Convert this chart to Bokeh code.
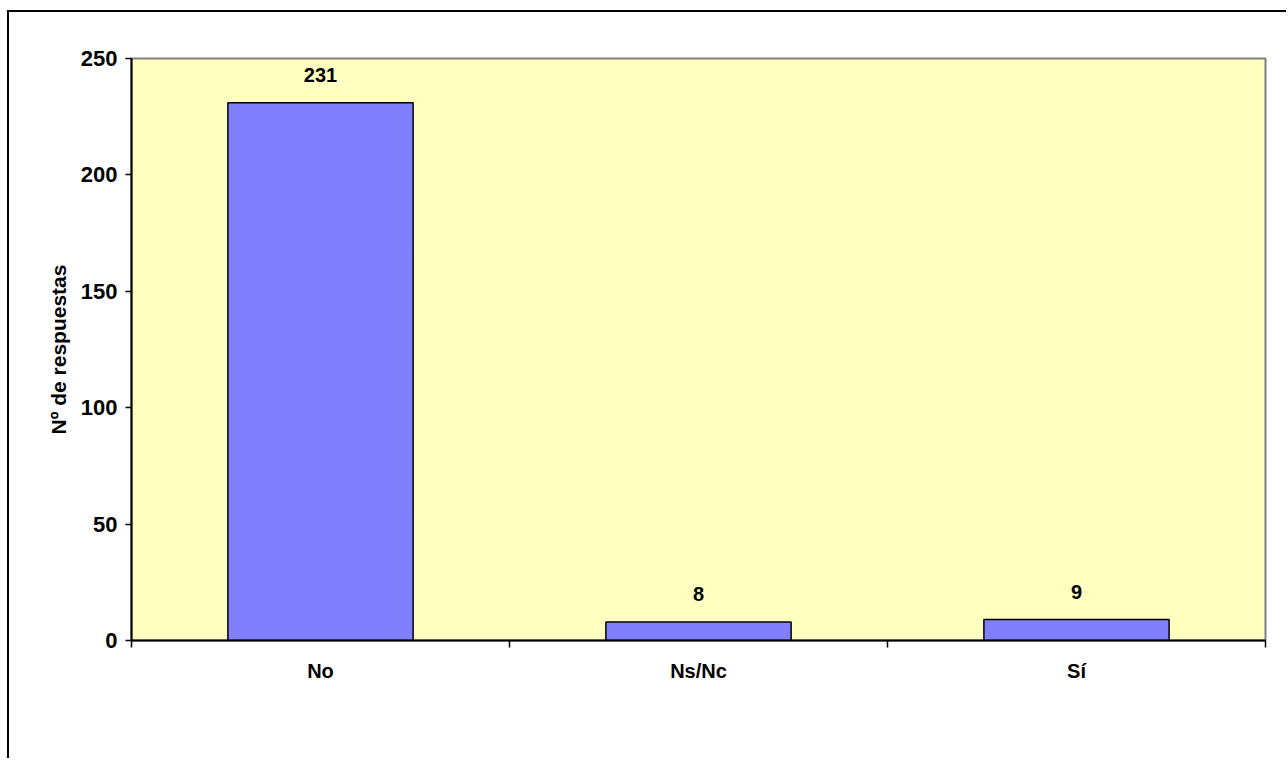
from bokeh.plotting import figure
from bokeh.models import Range1d, FixedTicker, ColumnDataSource, LabelSet
from bokeh.core.properties import value
from bokeh.embed import file_html
from bokeh.resources import INLINE

categories = ["No", "Ns/Nc", "Sí"]
values = [231, 8, 9]
y_ticks = [0, 50, 100, 150, 200, 250]

FONT = "Liberation Sans"

xs = [i + 0.5 for i in range(len(categories))]
src = ColumnDataSource(dict(x=xs, top=values, label=[str(v) for v in values]))

p = figure(width=1279, height=748, output_backend="svg", toolbar_location=None,
           x_range=Range1d(0, len(categories)), y_range=Range1d(0, 250),
           min_border_left=122, min_border_right=23, min_border_top=46, min_border_bottom=120)
p.styles = {"border-top": "2px solid black", "border-left": "2px solid black",
            "margin-top": "10px", "margin-left": "7px"}
p.background_fill_color = "#FFFFC0"
p.border_fill_color = "white"
p.outline_line_color = "#808080"
p.outline_line_width = 2
p.xgrid.visible = False
p.ygrid.visible = False

p.vbar(x="x", top="top", width=0.49, bottom=0, source=src,
       fill_color="#8080FF", line_color="black", line_width=1.5)

labels = LabelSet(x="x", y="top", text="label", source=src, text_align="center",
                  text_baseline="bottom", y_offset=21, text_font=value(FONT),
                  text_font_style="bold", text_font_size="20px", text_color="black")
p.add_layout(labels)

xa = p.xaxis[0]
xa.ticker = FixedTicker(ticks=xs, minor_ticks=list(range(len(categories) + 1)))
xa.major_label_overrides = {x: c for x, c in zip(xs, categories)}
xa.major_tick_out = 0
xa.major_tick_in = 0
xa.minor_tick_out = 7
xa.minor_tick_in = 0
xa.minor_tick_line_color = "black"
xa.minor_tick_line_width = 1.5
xa.axis_line_color = "black"
xa.axis_line_width = 2
xa.major_label_standoff = 12
xa.major_label_text_font = FONT
xa.major_label_text_font_style = "bold"
xa.major_label_text_font_size = "20px"
xa.major_label_text_color = "black"

ya = p.yaxis[0]
ya.ticker = FixedTicker(ticks=y_ticks, minor_ticks=[])
ya.major_tick_out = 6
ya.major_tick_in = 0
ya.major_tick_line_color = "black"
ya.major_tick_line_width = 1.5
ya.axis_line_color = "black"
ya.axis_line_width = 2
ya.major_label_standoff = 8
ya.major_label_text_font = FONT
ya.major_label_text_font_style = "bold"
ya.major_label_text_font_size = "22px"
ya.major_label_text_color = "black"
ya.axis_label = "Nº de respuestas"
ya.axis_label_standoff = 8
ya.axis_label_text_font = FONT
ya.axis_label_text_font_style = "bold"
ya.axis_label_text_font_size = "21px"
ya.axis_label_text_color = "black"

open("out.html", "w").write(file_html(p, INLINE))
